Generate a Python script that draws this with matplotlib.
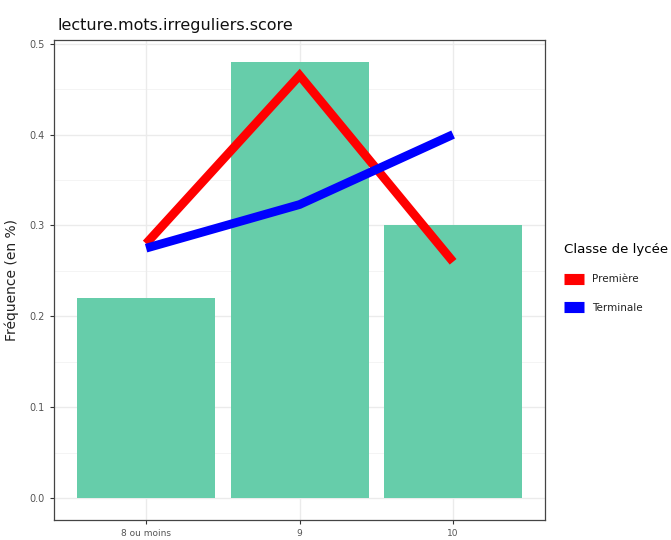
import numpy as np
import matplotlib
matplotlib.use("Agg")
import matplotlib.pyplot as plt
from matplotlib.lines import Line2D

# donnees
categories = ["8 ou moins", "9", "10"]
freq_total = [0.22, 0.48, 0.30]
freq_premiere = [0.28, 0.465, 0.26]
freq_terminale = [0.275, 0.323, 0.40]
series_labels = ["Première", "Terminale"]
yticks = [0.0, 0.1, 0.2, 0.3, 0.4, 0.5]

fig = plt.figure(figsize=(6.71, 5.4), dpi=100)
ax = fig.add_axes([0.0805, 0.037, 0.732, 0.889])

x = np.arange(1, len(categories) + 1)

# grille facon theme_bw
for y in np.arange(0.05, 0.5, 0.1):
    ax.axhline(y, color="#f2f2f2", lw=0.6, zorder=0)
for y in yticks:
    ax.axhline(y, color="#ebebeb", lw=1.0, zorder=0)
for xi in x:
    ax.axvline(xi, color="#ebebeb", lw=1.0, zorder=0)

ax.bar(x, freq_total, width=0.9, color="#66CDAA", zorder=2)
ax.plot(x, freq_premiere, color="#ff0000", lw=6.3, solid_capstyle="butt",
        solid_joinstyle="miter", zorder=3)
ax.plot(x, freq_terminale, color="#0000ff", lw=6.3, solid_capstyle="butt",
        solid_joinstyle="miter", zorder=3)

ax.set_xlim(0.4, 3.6)
ax.set_ylim(-0.024, 0.504)
ax.set_xticks(x)
ax.set_xticklabels(categories, fontsize=6.5, color="#555555")
ax.set_yticks(yticks)
ax.set_yticklabels([f"{v:.1f}" for v in yticks], fontsize=7, color="#555555")
ax.tick_params(length=3, width=0.8, color="#333333")
for s in ax.spines.values():
    s.set_color("#444444")
    s.set_linewidth(0.9)

ax.set_ylabel("Fréquence (en %)", fontsize=10, color="#222222", labelpad=8)
fig.text(0.085, 0.952, "lecture.mots.irreguliers.score", fontsize=11.5,
         color="#111111", va="center", ha="left")

handles = [Line2D([0], [0], color="#ff0000", lw=8, solid_capstyle="butt"),
           Line2D([0], [0], color="#0000ff", lw=8, solid_capstyle="butt")]
leg = fig.legend(handles, series_labels, title="Classe de lycée",
                 loc="upper left", bbox_to_anchor=(0.828, 0.565),
                 frameon=False, fontsize=7.5, title_fontsize=9.6,
                 handlelength=1.9, handletextpad=0.8, labelspacing=1.75,
                 borderpad=0.3)
leg._legend_box.align = "left"
for t in leg.get_texts():
    t.set_color("#222222")

fig.savefig("out.png", dpi=100)
